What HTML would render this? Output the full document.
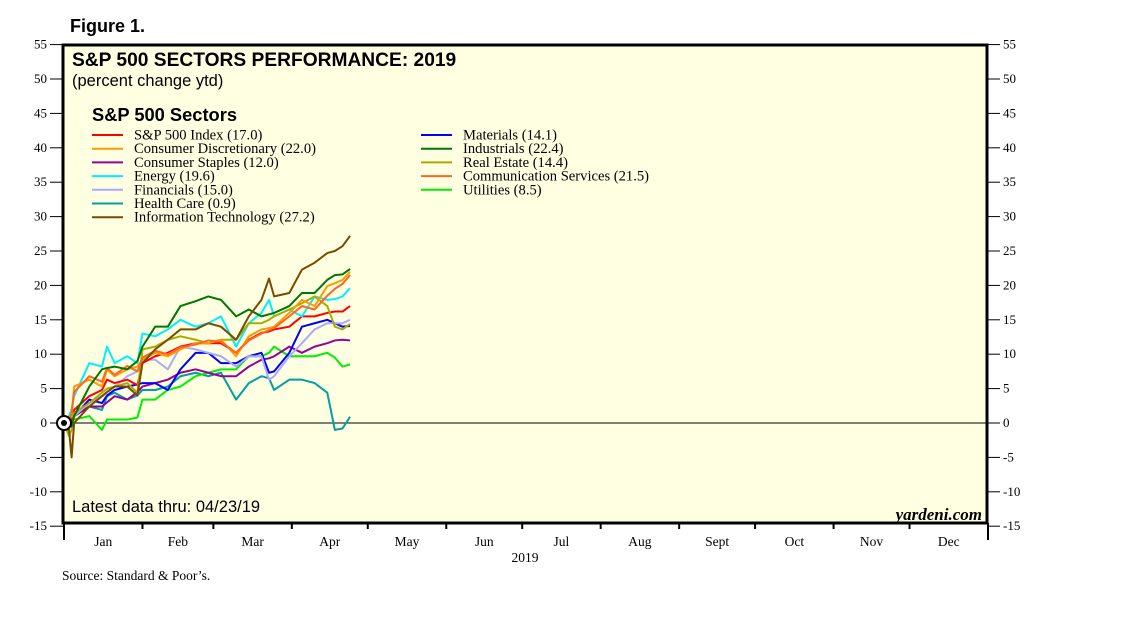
<!DOCTYPE html>
<html><head><meta charset="utf-8"><style>
body{margin:0;background:#fff;width:1138px;height:621px;overflow:hidden}
svg text{font-family:"Liberation Serif",serif}
.s{font-family:"Liberation Sans",sans-serif}
</style></head><body>
<svg id="c" width="1138" height="621">
<rect x="63" y="45" width="924" height="478" fill="#ffffe2"/>
<text class="s" x="70" y="32" font-size="18" font-weight="bold">Figure 1.</text>
<text class="s" x="72" y="66" font-size="19.2" font-weight="bold">S&amp;P 500 SECTORS PERFORMANCE: 2019</text>
<text class="s" x="72" y="86" font-size="16.5">(percent change ytd)</text>
<text class="s" x="92" y="121" font-size="18.3" font-weight="bold">S&amp;P 500 Sectors</text>
<text class="s" x="72" y="512" font-size="16.5">Latest data thru: 04/23/19</text>
<text x="982" y="520" font-size="17" font-weight="bold" font-style="italic" text-anchor="end">yardeni.com</text>
<text x="525" y="562" font-size="13.5" text-anchor="middle">2019</text>
<text x="62" y="580" font-size="13.5">Source: Standard &amp; Poor’s.</text>
<g id="axes"></g><g id="series"></g><g id="legend"></g>
<rect x="63" y="45" width="924" height="478" fill="none" stroke="#000" stroke-width="3"/>
<circle cx="64" cy="423" r="7" fill="#fff" stroke="#000" stroke-width="2"/>
<circle cx="64" cy="423" r="3" fill="#000"/>
</svg>
<script>
const days=[0,2,3,4,10,15,17,20,25,29,31,36,41,46,52,57,62,68,73,78,81,83,89,94,99,104,107,110,113];
const yTicks=[55,50,45,40,35,30,25,20,15,10,5,0,-5,-10,-15];
const months=["Jan","Feb","Mar","Apr","May","Jun","Jul","Aug","Sept","Oct","Nov","Dec"];
const monthStarts=[0,31,59,90,120,151,181,212,243,273,304,334,365];
const names=["S&P 500 Index (17.0)","Consumer Discretionary (22.0)","Consumer Staples (12.0)","Energy (19.6)","Financials (15.0)","Health Care (0.9)","Information Technology (27.2)","Materials (14.1)","Industrials (22.4)","Real Estate (14.4)","Communication Services (21.5)","Utilities (8.5)"];
const colors=["#ff0000","#ff9900","#990099","#00eeff","#aaaaff","#00a0a0","#7a4a00","#0000ff","#007700","#aaaa00","#ff6622","#00ee00"];
const sp=[0,0,0.5,1.9,3.9,4.8,6.3,5.8,6.3,5.5,8.7,9.7,10.2,11.1,11.6,11.6,11.6,10.2,12.1,13.1,13.3,13.6,14,15.5,15.5,16,16.2,16.2,17];
const disc=[0,0.5,1,5.3,6.3,5.3,7.8,6.8,7.8,8.2,9.2,10.2,9.7,10.7,11.6,11.6,12.1,9.7,12.6,13.6,13.8,14,16,17.9,17,19.9,20.3,20.8,22];
const staples=[0,0,0.5,1,2.4,2.4,3,3.9,3.4,4.5,5.3,5.8,6.3,7.3,7.8,7.3,6.8,6.8,8.2,9.2,9.4,9.7,11.1,10.2,11.1,11.6,12,12.1,12];
const energy=[0,1,2,3.9,8.7,8.2,11.1,8.7,9.7,8.7,13,12.6,13.6,15,14,14.5,15.5,11.1,14.5,16,17.9,15.5,16.5,15.5,18.4,17.9,18,18.4,19.6];
const fin=[0,1,1,1,2.9,3.9,4.5,5.3,6.8,7.5,9.2,9.2,7.8,11.1,10.7,10.2,9.7,8.2,9.7,9.7,6.3,6.8,9.7,11.6,13.6,14.5,14.5,14.5,15];
const health=[0,1,1,1,2.4,1.9,3.9,4.4,3.4,4,4.8,4.8,5.3,6.8,7.3,6.8,7.3,3.4,5.8,6.8,6.5,4.8,6.3,6.3,5.8,4.4,-1,-0.8,0.9];
const tech=[0,-1,-5,0,2.4,3.9,4.5,5.3,5.3,4,8.7,10.7,12.1,13.6,13.6,14.5,14,12.1,15.5,17.9,21,18.4,18.9,22.3,23.3,24.7,25,25.7,27.2];
const mat=[0,0,0.5,1,3.4,2.9,4,4.8,5.3,5.6,5.8,5.8,4.8,7.8,10.2,10.2,8.7,8.7,9.7,10.2,7.3,7.5,10.2,14,14.5,15,14.5,14,14.1];
const ind=[0,0,-0.5,1,5.3,7.8,8,8.2,7.8,9,11.1,14,14,17,17.7,18.4,17.9,15.5,16.5,15.5,15.8,16,17,18.9,18.9,20.8,21.5,21.6,22.4];
const re=[0,-1.9,-1,1.5,2.9,4.4,5,5.3,5.8,4.4,10.7,11.1,12.1,12.6,12.1,11.6,12.1,12.1,14.5,14.5,15,15.5,16.5,17.4,18.4,17,14,13.6,14.4];
const comm=[0,0.5,1.5,4.5,6.8,6,8,7,8.3,7.5,9.5,10.5,10,11,11.4,12,11.8,10.2,12,13,13.5,13.8,15.5,17,16.5,18.5,19.5,20.2,21.5];
const util=[0,0,0.5,0.5,1,-1,0.5,0.5,0.5,0.8,3.4,3.4,4.8,5.3,6.8,7.3,7.8,7.8,9.7,9.7,10.2,11.1,9.7,9.7,9.7,10.2,9.5,8.2,8.5];
const drawOrder=[health,util,staples,mat,fin,sp,energy,re,disc,comm,ind,tech];
const drawIdx=[5,11,2,7,4,0,3,9,1,10,8,6];
const keys=["sp500","cons-disc","cons-staples","energy","financials","health-care","info-tech","materials","industrials","real-estate","comm-services","utilities"];
const X=d=>64+d*(924/365);
const Y=v=>423-v*6.88;
const NS="http://www.w3.org/2000/svg";
function mk(t,a,p){const e=document.createElementNS(NS,t);for(const k in a)e.setAttribute(k,a[k]);p.appendChild(e);return e;}
const ax=document.getElementById('axes');
yTicks.forEach(v=>{
 let t=mk('line',{x1:50,x2:63,y1:Y(v),y2:Y(v),stroke:'#000'},ax);
 
 
 let t2=mk('line',{x1:987,x2:1000,y1:Y(v),y2:Y(v),stroke:'#000'},ax);
 
 
 let l=mk('text',{x:47,y:Y(v)+4,'font-size':13,'text-anchor':'end'},ax);l.textContent=v;
 
 
 let r=mk('text',{x:1003,y:Y(v)+4,'font-size':13},ax);r.textContent=v;
 
 
});
const z=mk('line',{x1:63,x2:987,y1:Y(0),y2:Y(0),stroke:'#000'},ax);


monthStarts.forEach((d,i)=>{
 const end=(i==0||i==12);
 let t=mk('line',{x1:X(d),x2:X(d),y1:523,y2:end?540:529,stroke:'#000','stroke-width':2},ax);
 
 
 if(i<12){let l=mk('text',{x:(X(d)+X(monthStarts[i+1]))/2,y:546,'font-size':13.5,'text-anchor':'middle'},ax);l.textContent=months[i];
 
 }
});
const sg=document.getElementById('series');
drawOrder.forEach((vals,j)=>{
 const i=drawIdx[j];
 const p=mk('polyline',{points:vals.map((v,k)=>X(days[k])+','+Y(v)).join(' '),fill:'none',stroke:colors[i],'stroke-width':2,'stroke-linejoin':'round'},sg);
 
 
});
const lg=document.getElementById('legend');
names.forEach((n,i)=>{
 const col=i<7?0:1,row=i<7?i:i-7;
 const x0=col?421:92,y0=135+row*13.7;
 const ln=mk('line',{x1:x0,x2:x0+31,y1:y0,y2:y0,stroke:colors[i],'stroke-width':2},lg);
 
 
 const t=mk('text',{x:x0+42,y:y0+4.5,'font-size':14.6},lg);t.textContent=n;
 
 
});
</script>
</body></html>
